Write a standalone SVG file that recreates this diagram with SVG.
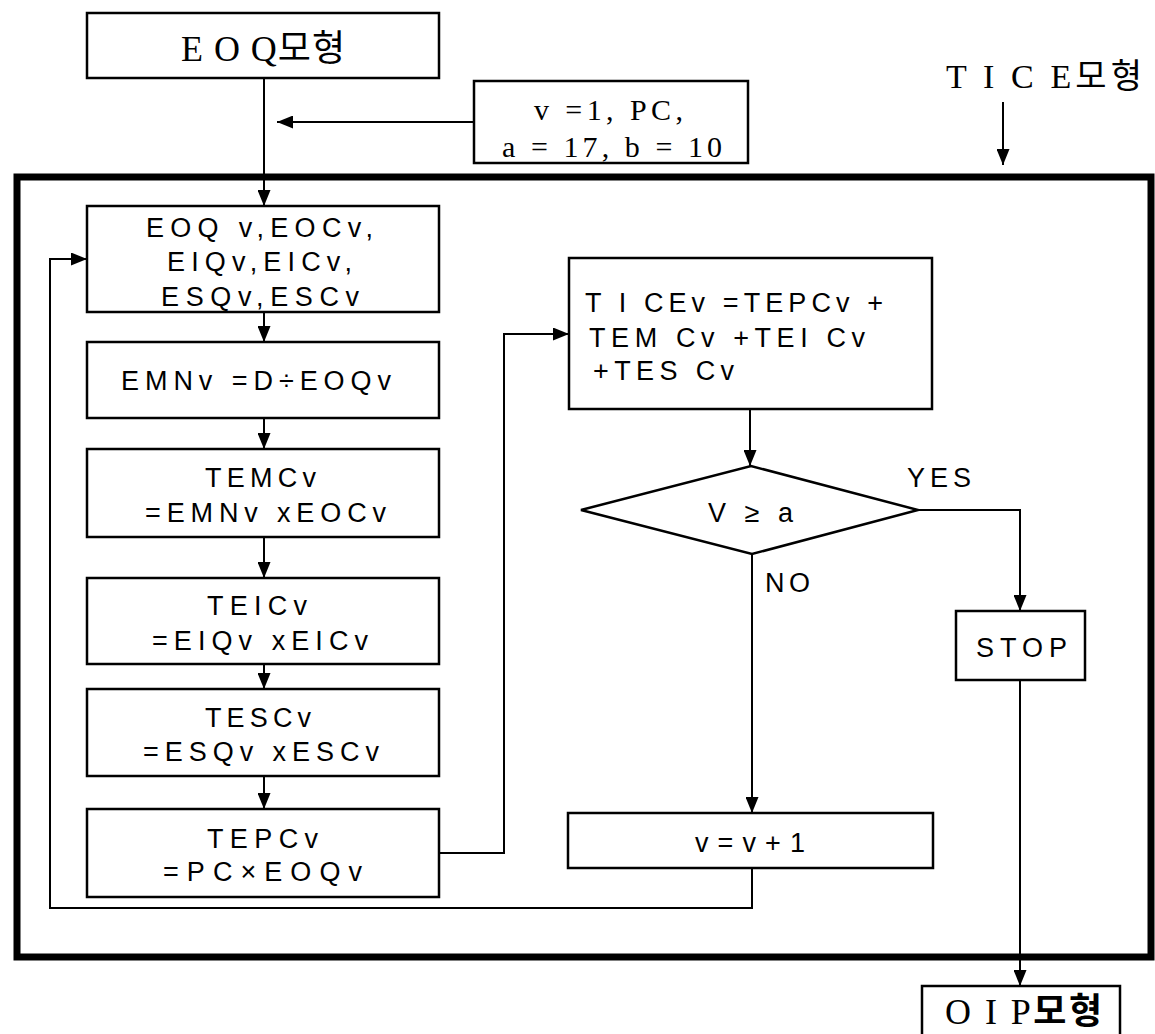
<svg xmlns="http://www.w3.org/2000/svg" width="1155" height="1034" viewBox="0 0 1155 1034">
<style>
.box{fill:#fff;stroke:#000;stroke-width:2.5}
.frame{fill:none;stroke:#000;stroke-width:7}
.ln{fill:none;stroke:#000;stroke-width:2}
.sans{font-family:"Liberation Sans","Noto Sans CJK KR",sans-serif;font-size:27px;fill:#000}
.serif{font-family:"Liberation Serif","Noto Sans CJK KR",serif;fill:#000}
</style>
<defs>
<marker id="ah" markerUnits="userSpaceOnUse" markerWidth="16" markerHeight="13" refX="16" refY="6.5" orient="auto">
<path d="M0,0 L16,6.5 L0,13 z" fill="#000"/>
</marker>
</defs>
<rect width="1155" height="1034" fill="#fff"/>
<rect class="frame" x="17" y="177" width="1134" height="780"/>
<g id="connectors">
<line class="ln" x1="264" y1="78" x2="264" y2="206" marker-end="url(#ah)"/>
<line class="ln" x1="474" y1="122" x2="277" y2="122" marker-end="url(#ah)"/>
<line class="ln" x1="1003" y1="102" x2="1003" y2="165" marker-end="url(#ah)"/>
<line class="ln" x1="264" y1="312" x2="264" y2="342" marker-end="url(#ah)"/>
<line class="ln" x1="264" y1="418" x2="264" y2="449" marker-end="url(#ah)"/>
<line class="ln" x1="264" y1="537" x2="264" y2="578" marker-end="url(#ah)"/>
<line class="ln" x1="264" y1="664" x2="264" y2="689" marker-end="url(#ah)"/>
<line class="ln" x1="264" y1="776" x2="264" y2="809" marker-end="url(#ah)"/>
<path class="ln" d="M439,853 H504 V334 H569" marker-end="url(#ah)"/>
<line class="ln" x1="750" y1="409" x2="750" y2="466" marker-end="url(#ah)"/>
<path class="ln" d="M918,510 H1020 V611" marker-end="url(#ah)"/>
<line class="ln" x1="752" y1="554" x2="752" y2="813" marker-end="url(#ah)"/>
<path class="ln" d="M752,868 V908 H50 V259 H87" marker-end="url(#ah)"/>
<line class="ln" x1="1020" y1="680" x2="1020" y2="986" marker-end="url(#ah)"/>
</g>
<g id="eoq-model">
<rect class="box" x="87" y="13" width="352" height="65"/>
<text class="serif" font-size="36" x="181" y="61" textLength="164" lengthAdjust="spacing">E O Q모형</text>
</g>
<g id="params">
<rect class="box" x="474" y="81" width="274" height="82"/>
<text class="serif" font-size="30" x="534" y="120" textLength="149" lengthAdjust="spacing">v =1, PC,</text>
<text class="serif" font-size="30" x="502" y="157" textLength="220" lengthAdjust="spacing">a = 17, b = 10</text>
</g>
<g id="tice-model">
<text class="serif" font-size="34" x="946" y="88" textLength="196" lengthAdjust="spacing">T I C E모형</text>
</g>
<g id="eoqv">
<rect class="box" x="87" y="206" width="352" height="106"/>
<text class="sans" x="146" y="237" textLength="227" lengthAdjust="spacing">EOQ v,EOCv,</text>
<text class="sans" x="167" y="271" textLength="185" lengthAdjust="spacing">EIQv,EICv,</text>
<text class="sans" x="161" y="306" textLength="198" lengthAdjust="spacing">ESQv,ESCv</text>
</g>
<g id="emnv">
<rect class="box" x="87" y="342" width="352" height="76"/>
<text class="sans" x="121" y="390" textLength="270" lengthAdjust="spacing">EMNv =D÷EOQv</text>
</g>
<g id="temcv">
<rect class="box" x="87" y="449" width="352" height="88"/>
<text class="sans" x="205" y="487" textLength="111" lengthAdjust="spacing">TEMCv</text>
<text class="sans" x="145" y="522" textLength="241" lengthAdjust="spacing">=EMNv xEOCv</text>
</g>
<g id="teicv">
<rect class="box" x="87" y="578" width="352" height="86"/>
<text class="sans" x="207" y="615" textLength="100" lengthAdjust="spacing">TEICv</text>
<text class="sans" x="152" y="650" textLength="216" lengthAdjust="spacing">=EIQv xEICv</text>
</g>
<g id="tescv">
<rect class="box" x="87" y="689" width="352" height="87"/>
<text class="sans" x="205" y="727" textLength="106" lengthAdjust="spacing">TESCv</text>
<text class="sans" x="143" y="761" textLength="236" lengthAdjust="spacing">=ESQv xESCv</text>
</g>
<g id="tepcv">
<rect class="box" x="87" y="809" width="352" height="88"/>
<text class="sans" x="207" y="848" textLength="111" lengthAdjust="spacing">TEPCv</text>
<text class="sans" x="163" y="881" textLength="199" lengthAdjust="spacing">=PC×EOQv</text>
</g>
<g id="ticev">
<rect class="box" x="569" y="258" width="363" height="151"/>
<text class="sans" x="585" y="312" textLength="298" lengthAdjust="spacing">T I CEv =TEPCv +</text>
<text class="sans" x="589" y="347" textLength="276" lengthAdjust="spacing">TEM Cv  +TEI Cv</text>
<text class="sans" x="593" y="380" textLength="141" lengthAdjust="spacing">+TES Cv</text>
</g>
<g id="decision">
<polygon class="box" points="581,510 751,466 918,510 752,554"/>
<text class="sans" x="708" y="522" textLength="85" lengthAdjust="spacing">V ≥ a</text>
<text class="sans" x="907" y="487" textLength="64" lengthAdjust="spacing">YES</text>
<text class="sans" x="765" y="592" textLength="45" lengthAdjust="spacing">NO</text>
</g>
<g id="stop">
<rect class="box" x="956" y="611" width="129" height="69"/>
<text class="sans" x="976" y="657" textLength="91" lengthAdjust="spacing">STOP</text>
</g>
<g id="increment">
<rect class="box" x="568" y="813" width="365" height="55"/>
<text class="sans" x="695" y="852" textLength="110" lengthAdjust="spacing">v = v + 1</text>
</g>
<g id="oip-model">
<rect class="box" x="922" y="986" width="198" height="60"/>
<text class="serif" font-size="36" x="945" y="1024" textLength="157" lengthAdjust="spacing">O I P<tspan font-weight="bold">모형</tspan></text>
</g>
</svg>
